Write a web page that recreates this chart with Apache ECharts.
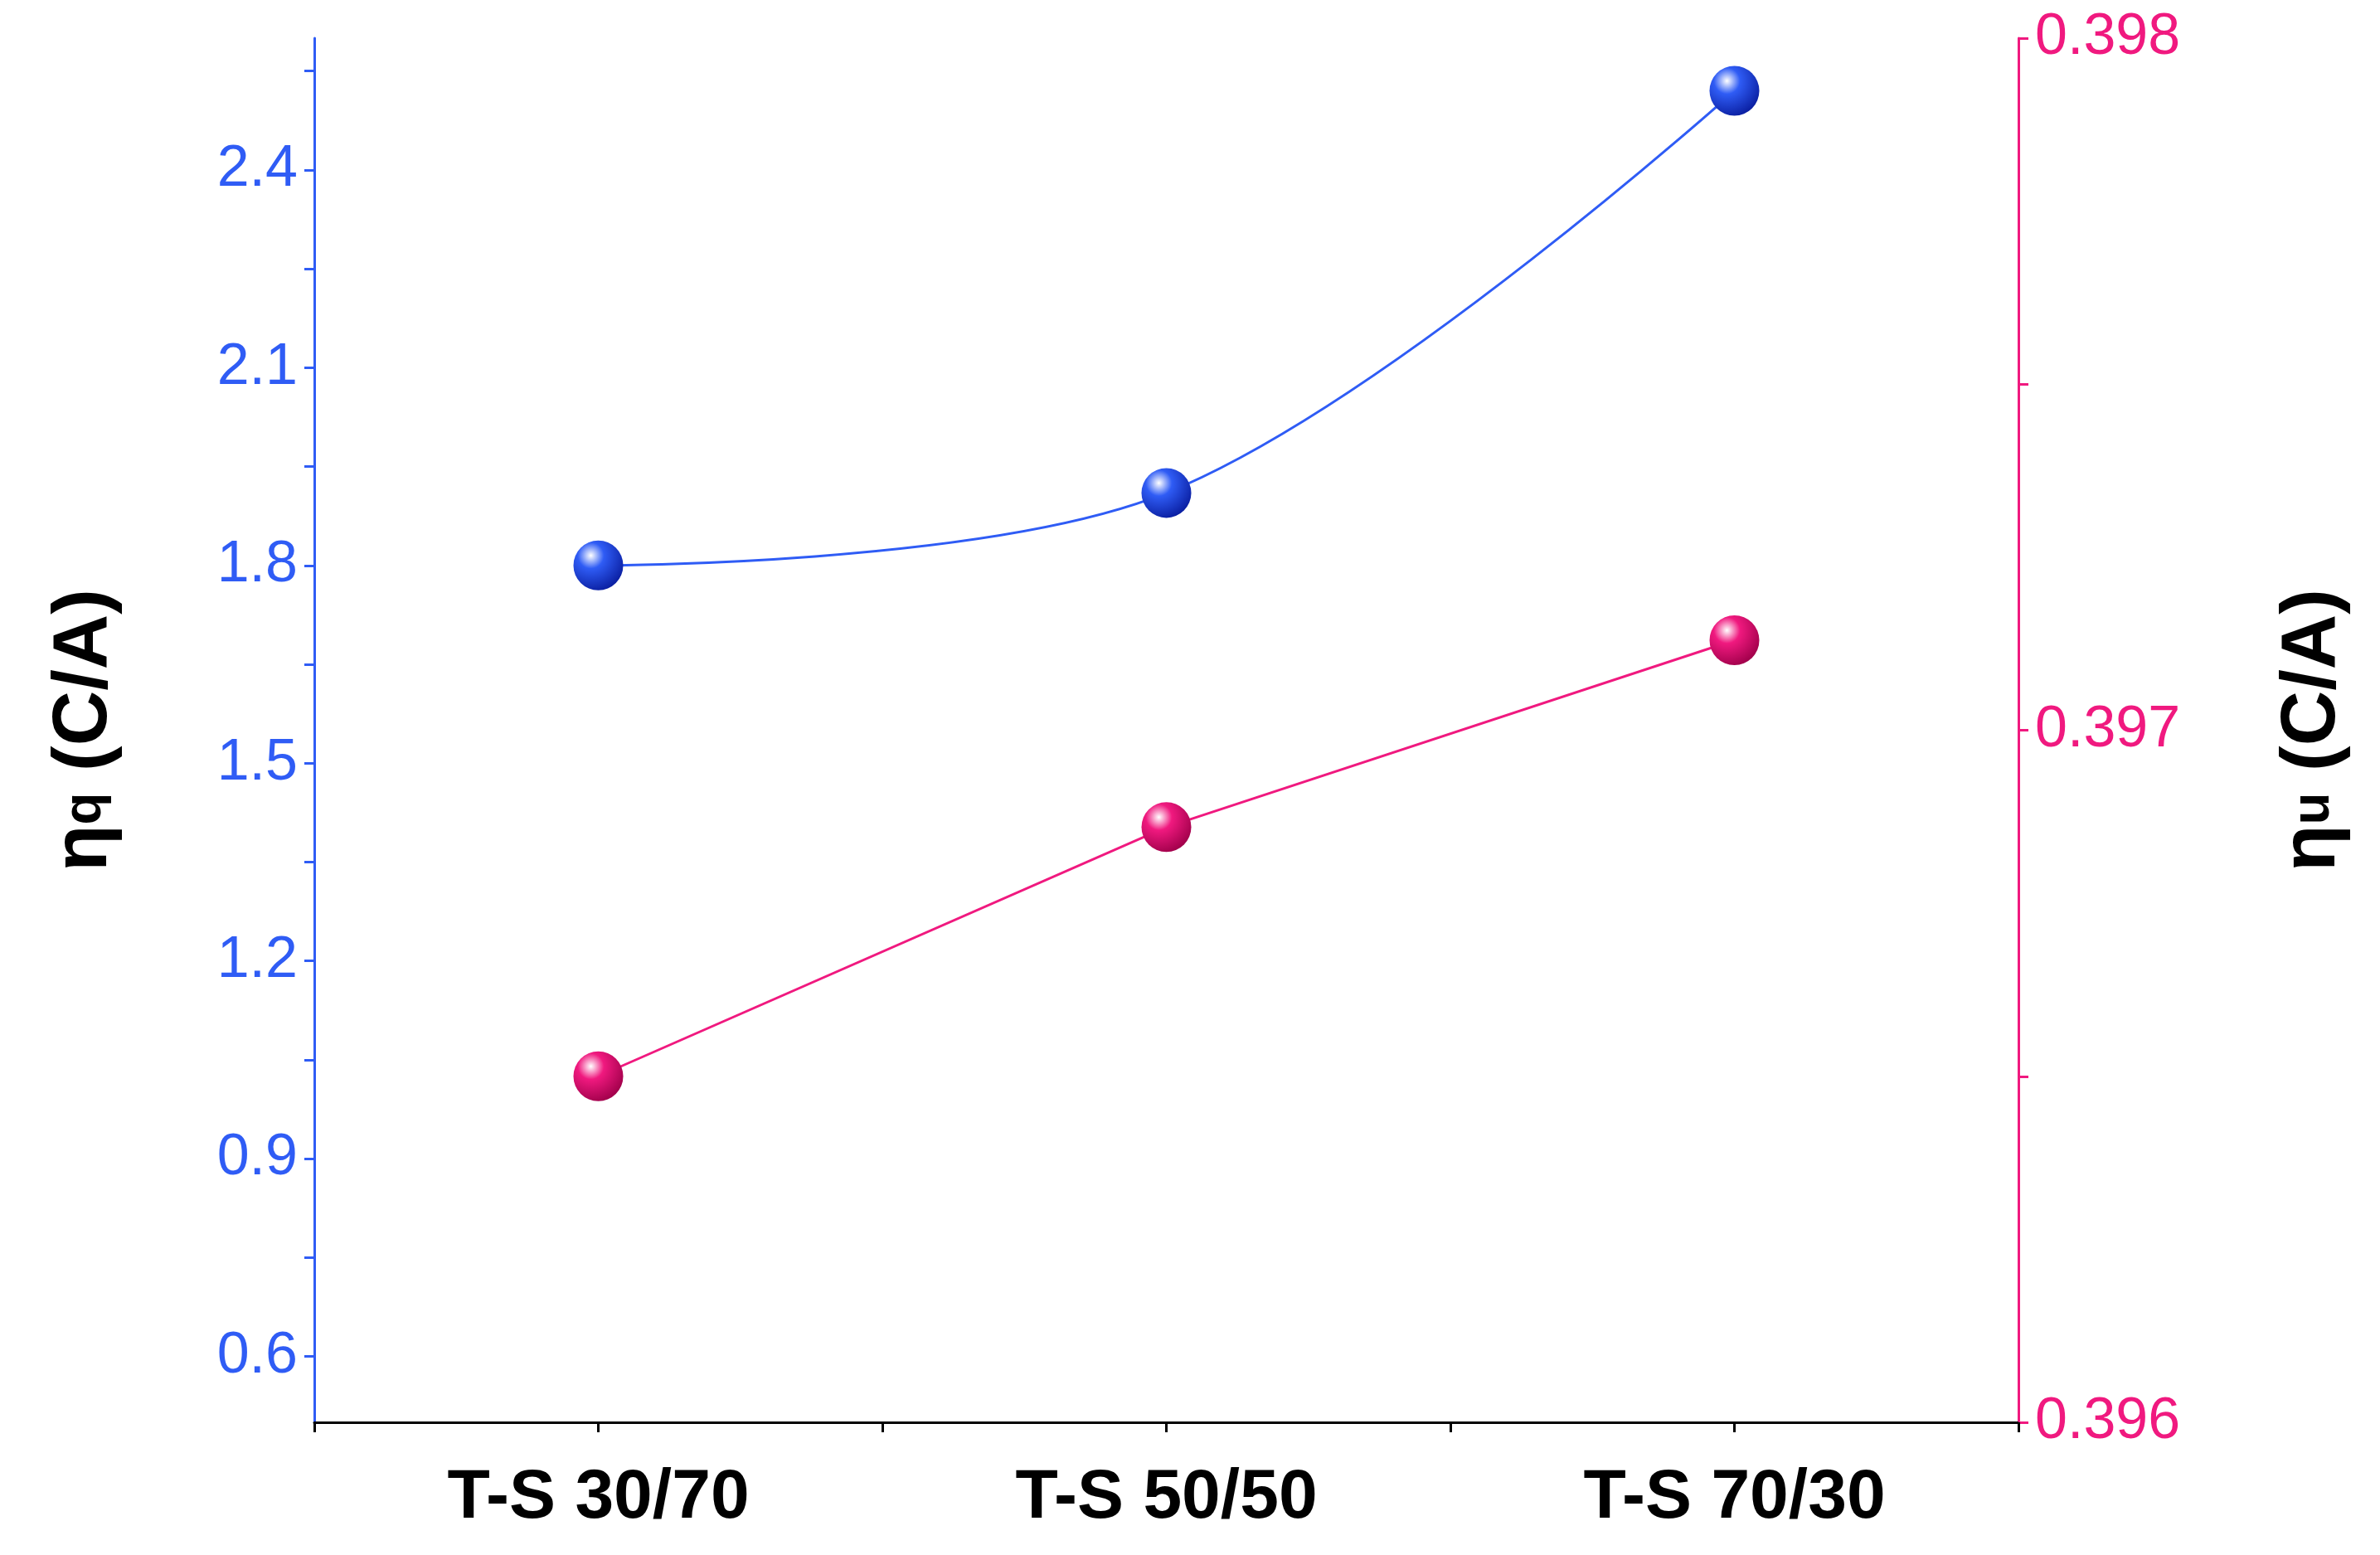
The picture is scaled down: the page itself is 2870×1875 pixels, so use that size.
<!DOCTYPE html>
<html><head><meta charset="utf-8">
<script src="https://cdn.jsdelivr.net/npm/echarts@6/dist/echarts.min.js"></script>
<style>html,body{margin:0;background:#fff}#c{width:2870px;height:1875px}</style>
</head><body><div id="c"></div>
<script>
const categories = ['T-S 30/70', 'T-S 50/50', 'T-S 70/30'];
const etaQ = [1.80, 1.91, 2.52];
const etaU = [0.3965, 0.39686, 0.39713];
const leftTicks = [0.6, 0.9, 1.2, 1.5, 1.8, 2.1, 2.4];
const rightTicks = [0.396, 0.397, 0.398];

const BLUE = '#2f5cf5', PINK = '#f0197f';
function sphere(c, dark) {
  return {type:'radial', x:0.35, y:0.3, r:0.75, colorStops:[
    {offset:0, color:'#ffffff'}, {offset:0.35, color:c}, {offset:1, color:dark}]};
}
const font = 'Liberation Sans, Arial, sans-serif';
const sub = {fontFamily:font, fontWeight:'bold', fontSize:64, color:'#000', padding:[0,0,0,0]};
const chart = echarts.init(document.getElementById('c'));
chart.setOption({
  animation:false,
  grid:{left:379, right:436, top:46, bottom:160},
  xAxis:{type:'value', min:0.5, max:3.5, interval:0.5,
    axisLine:{lineStyle:{color:'#000', width:3}},
    axisTick:{length:12, lineStyle:{color:'#000', width:3}},
    splitLine:{show:false},
    axisLabel:{customValues:[1,2,3], formatter:v=>categories[Math.round(v)-1],
      fontFamily:font, fontWeight:'bold', fontSize:84, color:'#000', margin:50}},
  yAxis:[{type:'value', min:0.5, max:2.6, position:'left',
    axisLine:{show:true, lineStyle:{color:BLUE, width:3}},
    axisTick:{show:true, length:12, customValues:[0.6,0.75,0.9,1.05,1.2,1.35,1.5,1.65,1.8,1.95,2.1,2.25,2.4,2.55], lineStyle:{color:BLUE, width:3}},
    splitLine:{show:false},
    axisLabel:{customValues:leftTicks, formatter:v=>v.toFixed(1), fontFamily:font, fontSize:70, color:BLUE, margin:20},
    name:'{a|η}{s|q}{a| (C/A)}', nameLocation:'middle', nameGap:230, nameRotate:90,
    nameTextStyle:{rich:{a:{fontFamily:font, fontWeight:'bold', fontSize:92, color:'#000'}, s:sub}}
  },{type:'value', min:0.396, max:0.398, position:'right',
    axisLine:{show:true, lineStyle:{color:PINK, width:3}},
    axisTick:{show:true, length:12, customValues:[0.396,0.3965,0.397,0.3975,0.398], lineStyle:{color:PINK, width:3}},
    splitLine:{show:false},
    axisLabel:{customValues:rightTicks, formatter:v=>v.toFixed(3), fontFamily:font, fontSize:70, color:PINK, margin:20},
    name:'{a|η}{s|u}{a| (C/A)}', nameLocation:'middle', nameGap:310, nameRotate:90,
    nameTextStyle:{rich:{a:{fontFamily:font, fontWeight:'bold', fontSize:92, color:'#000'}, s:sub}}
  }],
  series:[
    {type:'line', yAxisIndex:0, smooth:0.35, data:etaQ.map((v,i)=>[i+1,v]),
      lineStyle:{color:BLUE, width:3}, symbol:'circle', symbolSize:60,
      itemStyle:{color:sphere(BLUE,'#0a1ea0')}},
    {type:'line', yAxisIndex:1, data:etaU.map((v,i)=>[i+1,v]),
      lineStyle:{color:PINK, width:3}, symbol:'circle', symbolSize:60,
      itemStyle:{color:sphere(PINK,'#a0004a')}}
  ]
});
</script></body></html>
